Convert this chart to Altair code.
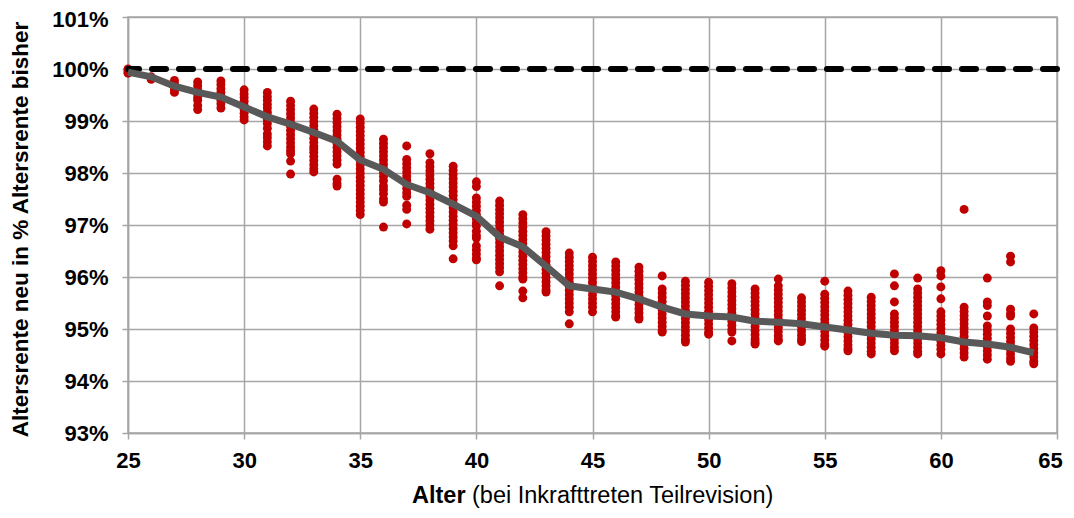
import altair as alt
import pandas as pd

ages = list(range(25, 65))

# red dots: values (in %) per age
dots_by_age = {
    25: [100.0, 99.95, 99.92],
    26: [99.85, 99.8],
    27: [99.78, 99.72, 99.66, 99.6, 99.55],
    28: [99.75, 99.68, 99.6, 99.52, 99.45, 99.4, 99.3, 99.22],
    29: [99.77, 99.7, 99.62, 99.55, 99.48, 99.4, 99.33, 99.25],
    30: [99.6, 99.52, 99.45, 99.38, 99.3, 99.22, 99.15, 99.08, 99.02],
    31: [99.55, 99.47, 99.4, 99.32, 99.25, 99.17, 99.1, 99.02, 98.95, 98.86, 98.75, 98.68, 98.6, 98.52],
    32: [99.38, 99.3, 99.22, 99.14, 99.06, 98.98, 98.9, 98.82, 98.74, 98.66, 98.58, 98.5, 98.43, 98.37, 98.23, 97.98],
    33: [99.23, 99.15, 99.07, 98.99, 98.91, 98.83, 98.75, 98.67, 98.59, 98.51, 98.46, 98.4, 98.32, 98.24, 98.16, 98.08, 98.02],
    34: [99.13, 99.05, 98.97, 98.89, 98.81, 98.73, 98.65, 98.57, 98.49, 98.41, 98.33, 98.25, 98.17, 97.88, 97.8, 97.75],
    35: [99.04, 98.96, 98.88, 98.8, 98.72, 98.64, 98.56, 98.48, 98.4, 98.32, 98.24, 98.16, 98.08, 98.0, 97.92,
         97.84, 97.76, 97.68, 97.6, 97.52, 97.44, 97.36, 97.28, 97.2],
    36: [98.65, 98.57, 98.49, 98.41, 98.33, 98.25, 98.17, 98.09, 98.01, 97.93, 97.85, 97.75, 97.68, 97.6, 97.5, 97.44, 96.96],
    37: [98.52, 98.26, 98.18, 98.1, 98.02, 97.94, 97.86, 97.78, 97.7, 97.62, 97.55, 97.38, 97.3, 97.02],
    38: [98.37, 98.2, 98.12, 98.04, 97.96, 97.88, 97.8, 97.72, 97.64, 97.56, 97.48, 97.4, 97.32, 97.24, 97.16,
         97.08, 97.0, 96.92],
    39: [98.13, 98.05, 97.97, 97.89, 97.81, 97.73, 97.65, 97.57, 97.49, 97.41, 97.33, 97.25, 97.17, 97.09, 97.01,
         96.93, 96.85, 96.77, 96.69, 96.6, 96.35],
    40: [97.83, 97.74, 97.52, 97.44, 97.36, 97.28, 97.2, 97.12, 97.04, 96.98, 96.88, 96.8, 96.75, 96.6, 96.52,
         96.44, 96.36, 96.33],
    41: [97.46, 97.38, 97.3, 97.22, 97.14, 97.06, 96.98, 96.9, 96.82, 96.74, 96.66, 96.58, 96.5, 96.42, 96.34,
         96.26, 96.18, 96.1, 95.83],
    42: [97.2, 97.12, 97.04, 96.96, 96.88, 96.8, 96.72, 96.64, 96.56, 96.48, 96.4, 96.32, 96.24, 96.16, 96.08,
         96.0, 95.96, 95.73, 95.6],
    43: [96.87, 96.79, 96.71, 96.63, 96.55, 96.47, 96.39, 96.31, 96.23, 96.15, 96.07, 95.99, 95.91, 95.83, 95.75,
         95.71],
    44: [96.46, 96.38, 96.3, 96.22, 96.14, 96.06, 95.98, 95.9, 95.82, 95.74, 95.66, 95.58, 95.5, 95.42, 95.33, 95.1],
    45: [96.38, 96.3, 96.22, 96.14, 96.06, 95.98, 95.9, 95.82, 95.74, 95.66, 95.58, 95.5, 95.42, 95.33],
    46: [96.29, 96.21, 96.13, 96.05, 95.97, 95.89, 95.81, 95.73, 95.65, 95.57, 95.49, 95.41, 95.33, 95.25, 95.23],
    47: [96.19, 96.11, 96.03, 95.95, 95.87, 95.79, 95.71, 95.63, 95.55, 95.47, 95.39, 95.31, 95.23, 95.19],
    48: [96.02, 95.77, 95.69, 95.61, 95.53, 95.45, 95.37, 95.29, 95.21, 95.13, 95.05, 94.97, 94.94],
    49: [95.92, 95.84, 95.76, 95.68, 95.6, 95.52, 95.44, 95.36, 95.28, 95.2, 95.12, 95.04, 94.96, 94.88, 94.8, 94.75],
    50: [95.9, 95.82, 95.74, 95.66, 95.58, 95.5, 95.42, 95.34, 95.26, 95.18, 95.1, 95.02, 94.94, 94.9],
    51: [95.87, 95.79, 95.71, 95.63, 95.55, 95.47, 95.39, 95.31, 95.23, 95.15, 95.07, 94.99, 94.94, 94.77],
    52: [95.77, 95.69, 95.61, 95.53, 95.45, 95.37, 95.29, 95.21, 95.13, 95.05, 94.97, 94.89, 94.81, 94.75, 94.71],
    53: [95.96, 95.83, 95.75, 95.67, 95.59, 95.51, 95.43, 95.35, 95.27, 95.19, 95.11, 95.03, 94.95, 94.87, 94.8, 94.77],
    54: [95.6, 95.52, 95.44, 95.36, 95.28, 95.2, 95.12, 95.04, 94.96, 94.88, 94.81, 94.76],
    55: [95.92, 95.67, 95.59, 95.51, 95.43, 95.35, 95.27, 95.19, 95.11, 95.03, 94.95, 94.87, 94.79, 94.71, 94.67],
    56: [95.73, 95.65, 95.57, 95.49, 95.41, 95.33, 95.25, 95.17, 95.09, 95.01, 94.93, 94.85, 94.77, 94.69, 94.62, 94.58],
    57: [95.61, 95.53, 95.45, 95.37, 95.29, 95.21, 95.13, 95.05, 94.97, 94.89, 94.81, 94.73, 94.65, 94.57, 94.52],
    58: [96.06, 95.83, 95.52, 95.29, 95.21, 95.13, 95.05, 94.97, 94.89, 94.81, 94.73, 94.65, 94.58],
    59: [95.98, 95.77, 95.69, 95.61, 95.53, 95.45, 95.37, 95.29, 95.21, 95.13, 95.05, 94.97, 94.89, 94.81, 94.73,
         94.65, 94.57, 94.52],
    60: [96.12, 96.02, 95.81, 95.58, 95.33, 95.25, 95.17, 95.09, 95.01, 94.93, 94.85, 94.77, 94.69, 94.61, 94.52],
    61: [97.3, 95.42, 95.34, 95.26, 95.18, 95.1, 95.02, 94.94, 94.86, 94.78, 94.7, 94.62, 94.54, 94.46],
    62: [95.98, 95.52, 95.45, 95.25, 95.06, 94.98, 94.9, 94.82, 94.74, 94.66, 94.58, 94.5, 94.42],
    63: [96.4, 96.29, 95.38, 95.3, 95.25, 95.0, 94.92, 94.84, 94.76, 94.68, 94.6, 94.52, 94.44, 94.38],
    64: [95.29, 95.02, 94.94, 94.86, 94.78, 94.7, 94.62, 94.54, 94.46, 94.38, 94.33],
}

# grey average line
mean_values = [99.94, 99.85, 99.67, 99.55, 99.46, 99.27, 99.08, 98.94, 98.78, 98.61,
               98.25, 98.07, 97.78, 97.62, 97.4, 97.17, 96.77, 96.58, 96.21, 95.83,
               95.77, 95.71, 95.58, 95.42, 95.29, 95.25, 95.23, 95.15, 95.13, 95.1,
               95.04, 94.98, 94.92, 94.88, 94.87, 94.83, 94.75, 94.71, 94.65, 94.54]

x_ticks = [25, 30, 35, 40, 45, 50, 55, 60, 65]
y_ticks = [93, 94, 95, 96, 97, 98, 99, 100, 101]
reference_level = 100

dots_df = pd.DataFrame(
    [{"age": a, "value": v} for a in ages for v in dots_by_age[a]]
)
mean_df = pd.DataFrame({"age": ages, "value": mean_values})

FONT = "Liberation Sans"
GRID = "#a6a6a6"

x_enc = alt.X(
    "age:Q",
    scale=alt.Scale(domain=[25, 65], nice=False, zero=False),
    axis=alt.Axis(values=x_ticks, title=None, grid=True, gridColor=GRID, gridWidth=1.5,
                  domainColor=GRID, domainWidth=1.5, tickColor=GRID, tickWidth=1.5, tickSize=6,
                  labelFont=FONT, labelFontSize=22, labelFontWeight="bold", labelColor="black",
                  labelPadding=11, labelFlush=False,
                  labelOffset={"condition": {"test": "datum.value == 65", "value": -7}, "value": 0}),
)
y_enc = alt.Y(
    "value:Q",
    scale=alt.Scale(domain=[93, 101], nice=False, zero=False),
    axis=alt.Axis(values=y_ticks, labelExpr="datum.value + '%'", grid=True, gridColor=GRID,
                  gridWidth=1.5, domainColor=GRID, domainWidth=1.5, tickColor=GRID, tickWidth=1.5,
                  tickSize=6, labelFont=FONT, labelFontSize=22, labelFontWeight="bold",
                  labelColor="black", labelPadding=14, labelFlush=False,
                  labelOffset={"condition": {"test": "datum.value == 101", "value": 2}, "value": 0},
                  title="Altersrente neu in % Altersrente bisher", titleFont=FONT, titleFontSize=22.5,
                  titleFontWeight="bold", titleColor="black", titleX=-108, titleY=212,
                  titleAngle=270, titleAlign="center", titleBaseline="middle"),
)

dots = alt.Chart(dots_df).mark_circle(size=80, color="#c00000", opacity=1).encode(x=x_enc, y=y_enc)

ref = alt.Chart(pd.DataFrame({"value": [reference_level]})).mark_rule(
    color="black", strokeWidth=6, strokeDash=[14, 13], strokeCap="round"
).encode(y=alt.Y("value:Q"))

mean_line = alt.Chart(mean_df).mark_line(color="#595959", strokeWidth=7).encode(
    x="age:Q", y="value:Q"
)

title_bold = alt.Chart(pd.DataFrame({"t": ["Alter"]})).mark_text(
    font=FONT, fontSize=23.5, fontWeight="bold", align="left", baseline="alphabetic", color="black"
).encode(text="t:N", x=alt.value(284), y=alt.value(486))

title_normal = alt.Chart(pd.DataFrame({"t": ["(bei Inkrafttreten Teilrevision)"]})).mark_text(
    font=FONT, fontSize=23.5, fontWeight="normal", align="left", baseline="alphabetic", color="black"
).encode(text="t:N", x=alt.value(344), y=alt.value(486))

chart = alt.layer(dots, ref, mean_line, title_bold, title_normal).properties(
    width=929, height=416,
    autosize=alt.AutoSizeParams(type="none"),
    padding={"left": 120, "top": 9, "right": 9, "bottom": 77},
).configure_view(stroke=GRID, strokeWidth=1.5)

chart.save("out.html", embed_options={"renderer": "svg", "actions": False})
